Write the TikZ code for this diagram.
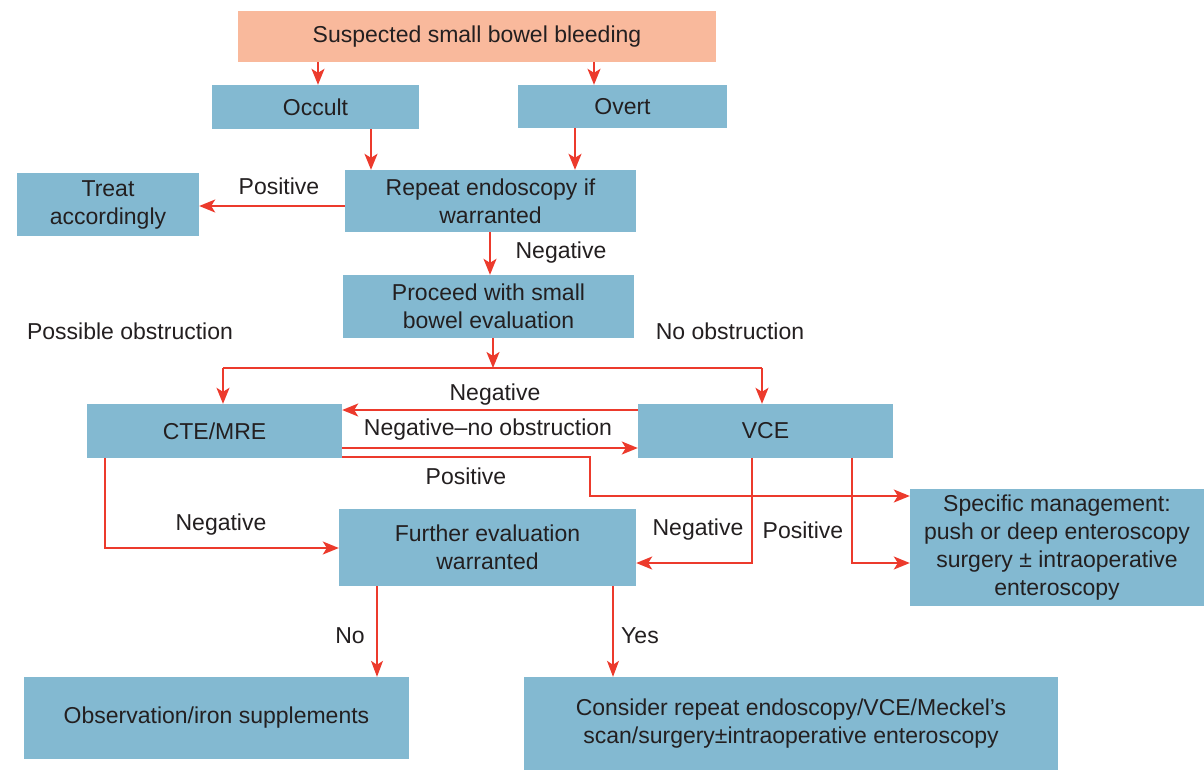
\documentclass[tikz,border=0pt]{standalone}
\usepackage{fontspec}
\setmainfont{Liberation Sans}
\usetikzlibrary{arrows.meta}
\definecolor{boxblue}{HTML}{83B9D1}
\definecolor{salmon}{HTML}{F9B99C}
\definecolor{arrred}{HTML}{EC3A2C}
\definecolor{txt}{HTML}{231F20}
\tikzset{
  box/.style={fill=boxblue, draw=none, inner sep=0pt, align=center, text=txt},
  topbox/.style={fill=salmon, draw=none, inner sep=0pt, align=center, text=txt},
  lbl/.style={inner sep=0pt, text=txt, anchor=center},
  conn/.style={draw=arrred, line width=1.8pt},
  arr/.style={conn, -{Stealth[length=16pt,width=13pt,inset=4pt]}},
  thinarr/.style={draw=arrred, line width=1.1pt, -{Stealth[length=16pt,width=12pt,inset=4pt]}},
}
\begin{document}
\begin{tikzpicture}[x=1pt,y=-1pt, font=\fontsize{23}{28}\selectfont]
\useasboundingbox (0,0) rectangle (1204,772);
% nodes
\node[topbox, minimum width=478pt, minimum height=51pt] (top) at (477,36.5) {Suspected small bowel bleeding};
\node[box, minimum width=207pt, minimum height=44pt] (occult) at (315.5,107) {Occult};
\node[box, minimum width=209pt, minimum height=43pt] (overt) at (622.5,106.5) {Overt};
\node[box, minimum width=291pt, minimum height=62pt] (repeat) at (490.5,201) {Repeat endoscopy if\\warranted};
\node[box, minimum width=182pt, minimum height=63pt] (treat) at (108,204.5) {Treat\\accordingly};
\node[box, minimum width=291pt, minimum height=63pt] (proceed) at (488.5,306.5) {Proceed with small\\bowel evaluation};
\node[box, minimum width=255pt, minimum height=54pt] (cte) at (214.5,431) {CTE/MRE};
\node[box, minimum width=255pt, minimum height=54pt] (vce) at (765.5,431) {VCE};
\node[box, minimum width=294pt, minimum height=117pt] (spec) at (1057,547.5) {Specific management:\\push or deep enteroscopy\\surgery ± intraoperative\\enteroscopy};
\node[box, minimum width=297pt, minimum height=77pt] (further) at (487.5,547.5) {Further evaluation\\warranted};
\node[box, minimum width=385pt, minimum height=82pt] (obs) at (216.5,718) {Observation/iron supplements};
\node[box, minimum width=534pt, minimum height=93pt] (consider) at (791,723.5) {Consider repeat endoscopy/VCE/Meckel's\\scan/surgery±intraoperative enteroscopy};
% labels
\node[lbl] (lpos1) at (279,186) {Positive};
\node[lbl] (lneg1) at (561,253) {Negative};
\node[lbl] (lposs) at (130,331) {Possible obstruction};
\node[lbl] (lnoob) at (730,331) {No obstruction};
\node[lbl] (lneg2) at (495,395) {Negative};
\node[lbl] (lnegno) at (488,430) {Negative--no obstruction};
\node[lbl] (lpos2) at (466,476) {Positive};
\node[lbl] (lneg3) at (221,525) {Negative};
\node[lbl] (lneg4) at (698,530) {Negative};
\node[lbl] (lpos3) at (803,530) {Positive};
\node[lbl] (lno) at (350,636) {No};
\node[lbl] (lyes) at (640,636) {Yes};
% helper coordinates
\coordinate (cA) at (318,0);
\coordinate (cB) at (594,0);
\coordinate (cC) at (371,0);
\coordinate (cD) at (575,0);
\coordinate (cE) at (490,0);
\coordinate (rPos) at (0,206);
\coordinate (jn) at (493,368);
\coordinate (hl) at (223,368);
\coordinate (hr) at (762,368);
\coordinate (rNeg) at (0,410);
\coordinate (rNegNo) at (0,448);
\coordinate (pA) at (590,457);
\coordinate (pB) at (590,496);
\coordinate (vA) at (752,563);
\coordinate (vB) at (852,563);
\coordinate (nA) at (105,548);
\coordinate (cF) at (377,0);
\coordinate (cG) at (613,0);
% connectors
\draw[arr] (cA |- top.south) -- (cA |- occult.north);
\draw[arr] (cB |- top.south) -- (cB |- overt.north);
\draw[arr] (cC |- occult.south) -- (cC |- repeat.north);
\draw[arr] (cD |- overt.south) -- (cD |- repeat.north);
\draw[arr] (repeat.west |- rPos) -- (treat.east |- rPos);
\draw[arr] (cE |- repeat.south) -- (cE |- proceed.north);
\draw[arr] (jn |- proceed.south) -- (jn);
\draw[conn] (hl) -- (hr);
\draw[arr] (hl) -- (hl |- cte.north);
\draw[arr] (hr) -- (hr |- vce.north);
\draw[arr] (vce.west |- rNeg) -- (cte.east |- rNeg);
\draw[arr] (cte.east |- rNegNo) -- (vce.west |- rNegNo);
\draw[arr] (cte.east |- pA) -- (pA) -- (pB) -- (spec.west |- pB);
\draw[arr] (vA |- vce.south) -- (vA) -- (further.east |- vA);
\draw[arr] (vB |- vce.south) -- (vB) -- (spec.west |- vB);
\draw[arr] (nA |- cte.south) -- (nA) -- (further.west |- nA);
\draw[thinarr] (cF |- further.south) -- (cF |- obs.north);
\draw[thinarr] (cG |- further.south) -- (cG |- consider.north);
\end{tikzpicture}
\end{document}
